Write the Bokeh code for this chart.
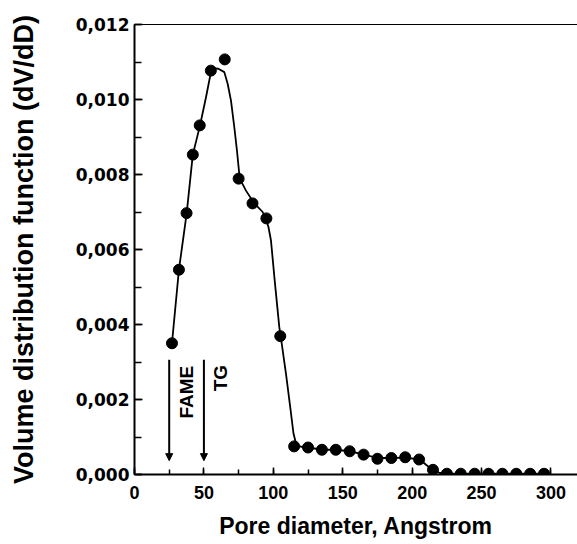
from bokeh.plotting import figure
from bokeh.models import (Range1d, SingleIntervalTicker, LinearAxis, Arrow,
                          NormalHead, Label, CustomJSTickFormatter, FixedTicker)
from bokeh.embed import file_html
from bokeh.resources import INLINE

# measured points
pore_d = [27, 32, 37.5, 42, 47, 55, 65, 75, 85, 95, 105, 115, 125, 135, 145,
          155, 165, 175, 185, 195, 205, 215, 225, 235, 245, 255, 265, 275, 285, 295]
dv_dd = [0.00350, 0.00546, 0.00697, 0.00853, 0.00931, 0.01077, 0.01107, 0.00789,
         0.00723, 0.00683, 0.00369, 0.00075, 0.00072, 0.00066, 0.00066, 0.00062,
         0.00053, 0.00042, 0.00044, 0.00046, 0.00040, 0.000125, 0.00002, 0.00002,
         0.00002, 0.00002, 0.00002, 0.00002, 0.00002, 0.00002]

# fitted curve
curve_x = [27, 32, 37.6, 42, 47.2, 51.5, 54.9, 57.5, 60.4, 64.7, 67.1, 69.5, 71.9,
           73.8, 75.8, 80.3, 85.9, 92.3, 94.5, 96.5, 98.3, 101.2, 104.3, 105.3, 109.1,
           112.2, 114.5, 116.5, 120, 125.5, 135, 145, 155, 165.5, 175, 185, 195,
           205.5, 210, 215, 220, 225, 235, 245, 255, 265, 275, 285, 296]
curve_y = [0.00350, 0.00546, 0.00697, 0.00853, 0.00931, 0.01006, 0.01070, 0.01083,
           0.01082, 0.01073, 0.01042, 0.00997, 0.00926, 0.00864, 0.00789, 0.00757,
           0.00725, 0.00700, 0.00682, 0.00660, 0.00624, 0.00509, 0.00393, 0.00369,
           0.00269, 0.00179, 0.00110, 0.00080, 0.00074, 0.00072, 0.00066, 0.00066,
           0.00062, 0.00053, 0.00044, 0.00044, 0.00045, 0.00040, 0.00026, 0.00012,
           0.00004, 0.00002, 0.00002, 0.00002, 0.00002, 0.00002, 0.00002, 0.00002,
           0.00002]

x_ticks_interval = 50
y_ticks_interval = 0.002

p = figure(width=577, height=544, output_backend="svg", toolbar_location=None,
           x_range=Range1d(0, 319.1), y_range=Range1d(0, 0.012),
           min_border_left=134, min_border_right=0, min_border_top=24,
           min_border_bottom=70)
p.background_fill_color = "white"
p.border_fill_color = "white"
p.outline_line_color = None
p.grid.visible = False

p.line(curve_x, curve_y, line_color="black", line_width=1.8)
p.scatter(pore_d, dv_dd, size=11, fill_color="black", line_color="black")

# arrows
for xa in (25, 50):
    p.add_layout(Arrow(end=NormalHead(size=7, fill_color="black", line_color="black"),
                       x_start=xa, y_start=0.00306, x_end=xa, y_end=0.00037,
                       line_color="black", line_width=2))

p.add_layout(Label(x=37.1, y=0.002195, text="FAME", angle=1.5708,
                   text_align="center", text_baseline="middle",
                   text_font="Liberation Sans", text_font_style="bold",
                   text_font_size="19px", text_color="black"))
p.add_layout(Label(x=62.1, y=0.00257, text="TG", angle=1.5708,
                   text_align="center", text_baseline="middle",
                   text_font="Liberation Sans", text_font_style="bold",
                   text_font_size="19px", text_color="black"))

# x axis
xa_ = p.xaxis[0]
xa_.ticker = SingleIntervalTicker(interval=x_ticks_interval, num_minor_ticks=2)
xa_.axis_label = "Pore diameter, Angstrom"
xa_.axis_label_text_font = "Liberation Sans"
xa_.axis_label_text_font_style = "bold"
xa_.axis_label_text_font_size = "23px"
xa_.axis_label_text_color = "black"
xa_.axis_label_standoff = 11
xa_.major_label_text_font = "Liberation Sans"
xa_.major_label_text_font_style = "bold"
xa_.major_label_text_font_size = "18px"
xa_.major_label_text_color = "black"
xa_.major_label_standoff = 11
xa_.major_tick_in = 7
xa_.major_tick_out = 0
xa_.minor_tick_in = 5
xa_.minor_tick_out = 0
xa_.axis_line_width = 2
xa_.axis_line_color = "black"
xa_.major_tick_line_width = 1.5
xa_.minor_tick_line_width = 1.5

# y axis
ya_ = p.yaxis[0]
ya_.ticker = SingleIntervalTicker(interval=y_ticks_interval, num_minor_ticks=2)
ya_.formatter = CustomJSTickFormatter(code="return tick.toFixed(3).replace('.', ',');")
ya_.axis_label = "Volume distribution function (dV/dD)"
ya_.axis_label_text_font = "Liberation Sans"
ya_.axis_label_text_font_style = "bold"
ya_.axis_label_text_font_size = "27px"
ya_.axis_label_text_color = "black"
ya_.axis_label_standoff = 34
ya_.major_label_text_font = "DejaVu Sans"
ya_.major_label_text_font_style = "bold"
ya_.major_label_text_font_size = "17px"
ya_.major_label_text_color = "black"
ya_.major_label_standoff = 5
ya_.major_tick_in = 8
ya_.major_tick_out = 0
ya_.minor_tick_in = 7
ya_.minor_tick_out = 0
ya_.axis_line_width = 2
ya_.axis_line_color = "black"
ya_.major_tick_line_width = 1.5
ya_.minor_tick_line_width = 1.5

# top frame line
top = LinearAxis(ticker=FixedTicker(ticks=[]), major_tick_in=0, major_tick_out=0,
                 minor_tick_in=0, minor_tick_out=0, axis_line_width=1.2,
                 axis_line_color="black")
p.add_layout(top, "above")

open("out.html", "w").write(file_html(p, INLINE))
